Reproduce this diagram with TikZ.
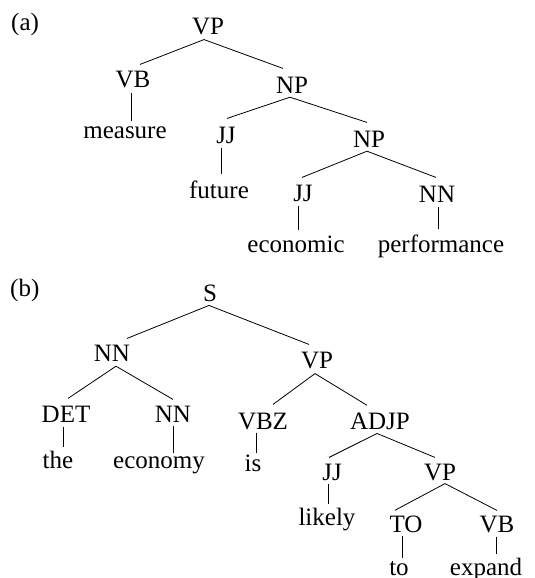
\documentclass[tikz,border=0pt]{standalone}
\usepackage{fontspec}
\setmainfont{Liberation Serif}
\newcommand{\br}[6]{\draw[edge] ([xshift=#2pt,yshift=-#3pt]#1.south) -- ([xshift=#5pt,yshift=#6pt]#4.north);}
\begin{document}
\begin{tikzpicture}[x=1pt,y=-1pt,
  lab/.style={inner sep=0pt,anchor=base,font=\fontsize{25}{30}\selectfont},
  edge/.style={line width=0.8pt}]
\useasboundingbox (0,0) rectangle (535,578);
% ---------- (a)
\node[lab,anchor=base west] (la) at (11,31) {(a)};
\node[lab] (aVP) at (208,35) {VP};
\node[lab] (aVB) at (133,88) {VB};
\node[lab] (aNP) at (292,93) {NP};
\node[lab] (ameasure) at (125,138) {measure};
\node[lab] (aJJ) at (226,143) {JJ};
\node[lab] (aNPb) at (369,147) {NP};
\node[lab] (afuture) at (219,198) {future};
\node[lab] (aJJb) at (303,201) {JJ};
\node[lab] (aNN) at (437,202) {NN};
\node[lab] (aeconomic) at (296,252) {economic};
\node[lab] (aperf) at (441,252) {performance};
\br{aVP}{-4}{4}{aVB}{7}{7}
\br{aVP}{-4}{4}{aNP}{-9}{8}
\br{aNP}{-2}{4}{aJJ}{1}{8}
\br{aNP}{-2}{4}{aNPb}{-2}{8}
\br{aNPb}{-2}{4}{aJJb}{-1}{7}
\br{aNPb}{-2}{4}{aNN}{-1}{8}
\br{aVB}{-2}{4}{ameasure}{6}{5}
\br{aJJ}{-5}{5}{afuture}{2}{6}
\br{aJJb}{-5}{5}{aeconomic}{2}{5}
\br{aNN}{1}{5}{aperf}{-3}{5}
% ---------- (b)
\node[lab,anchor=base west] (lb) at (10,296) {(b)};
\node[lab] (bS) at (210,301) {S};
\node[lab] (bNN) at (112,361) {NN};
\node[lab] (bVP) at (317,368) {VP};
\node[lab] (bDET) at (66,422) {DET};
\node[lab] (bNNb) at (173,422) {NN};
\node[lab] (bVBZ) at (263,429) {VBZ};
\node[lab] (bADJP) at (380,429) {ADJP};
\node[lab] (bthe) at (58,468) {the};
\node[lab] (beconomy) at (159,468) {economy};
\node[lab] (bis) at (253,471) {is};
\node[lab] (bJJ) at (332,480) {JJ};
\node[lab] (bVPb) at (440,480) {VP};
\node[lab] (blikely) at (327,525) {likely};
\node[lab] (bTO) at (406,532) {TO};
\node[lab] (bVB) at (497,532) {VB};
\node[lab] (bto) at (399,575) {to};
\node[lab] (bexpand) at (486,575) {expand};
\br{bS}{-1}{4}{bNN}{15}{6}
\br{bS}{-1}{4}{bVP}{-8}{7}
\br{bNN}{4}{5}{bDET}{2}{7}
\br{bNN}{4}{5}{bNNb}{0}{6}
\br{bVP}{-2}{5}{bVBZ}{10}{8}
\br{bVP}{-2}{5}{bADJP}{-13}{7}
\br{bADJP}{-3}{4}{bJJ}{-3}{6}
\br{bADJP}{-3}{4}{bVPb}{-5}{6}
\br{bVPb}{5}{3}{bTO}{-11}{5}
\br{bVPb}{5}{3}{bVB}{0}{5}
\br{bDET}{-3}{5}{bthe}{5}{3}
\br{bNNb}{0}{4}{beconomy}{14}{3}
\br{bVBZ}{-7}{3}{bis}{3}{1}
\br{bJJ}{-4}{4}{blikely}{1}{3}
\br{bTO}{-4}{4}{bto}{3}{3}
\br{bVB}{-1}{4}{bexpand}{10}{3}
\end{tikzpicture}
\end{document}
